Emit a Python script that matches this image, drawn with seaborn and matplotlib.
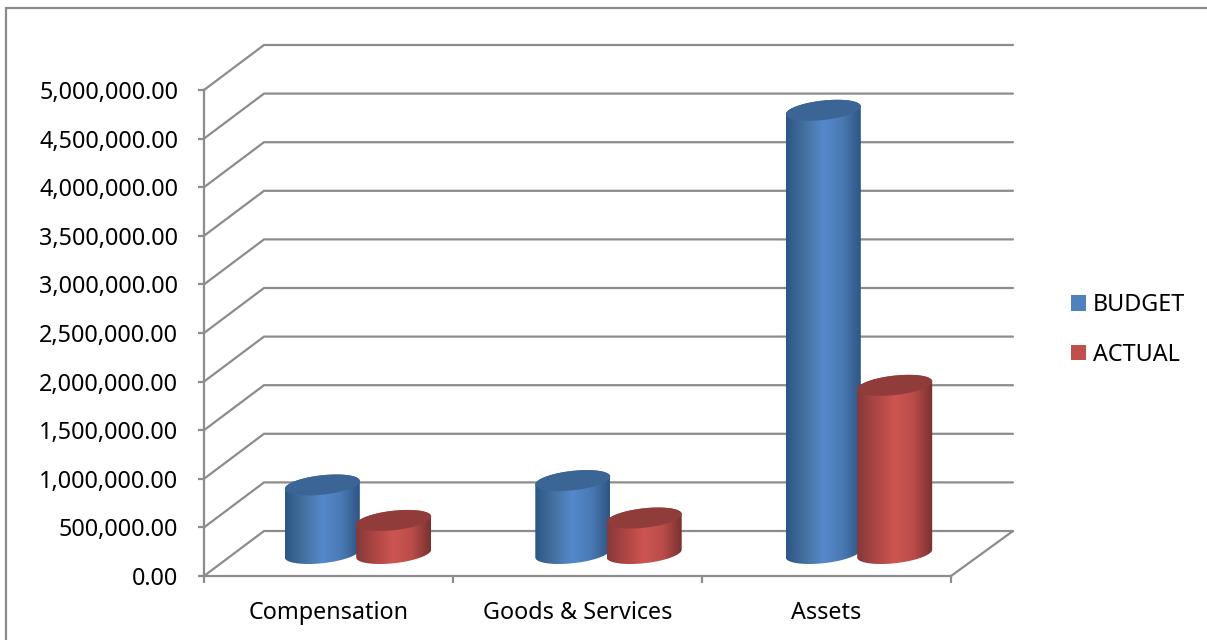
import numpy as np
import pandas as pd
import matplotlib
matplotlib.use("Agg")
import matplotlib.pyplot as plt
from matplotlib.colors import LinearSegmentedColormap
from matplotlib.patches import Polygon, Rectangle
import seaborn as sns

categories = ["Compensation", "Goods & Services", "Assets"]
budget = [705000, 750000, 4560000]
actual = [340000, 365000, 1730000]
series_names = ["BUDGET", "ACTUAL"]
y_ticks = list(range(0, 5000001, 500000))

W, H = 1207, 640
LEFT, RIGHT, BASE, TOP = 204, 951, 576, 90
PX_X = (RIGHT - LEFT) / 3
PX_Y = (BASE - TOP) / 5000000
DEPTH_X = 60 / PX_X
DEPTH_Y = 45 / PX_Y
WALL_STRETCH = 2 / PX_X  # the far wall reads slightly wider under perspective
LINE = "#8c8c8c"
LW = 1.6
FONT_SIZE = 16.8

sns.set_style("white")
plt.rcParams["font.family"] = ["Noto Sans", "DejaVu Sans"]

df = pd.DataFrame({
    "category": categories * 2,
    "series": [series_names[0]] * 3 + [series_names[1]] * 3,
    "amount": budget + actual,
})

fig = plt.figure(figsize=(W / 100, H / 100), dpi=100)
ax = fig.add_axes([LEFT / W, 1 - BASE / H, (RIGHT - LEFT) / W, (BASE - TOP) / H])
ax.patch.set_alpha(0)

sns.barplot(data=df, x="category", y="amount", hue="series", hue_order=series_names,
            palette=["#4f81bd", "#c0504d"], saturation=1, width=0.57, gap=0,
            linewidth=0, ax=ax)

x0, x1 = -0.5, 2.5
ax.set_xlim(x0, x1)
ax.set_ylim(0, 5000000)

# Back wall gridlines with their diagonal returns to the value axis
for v in y_ticks:
    ax.plot([x0, x0 + DEPTH_X, x1 + DEPTH_X + WALL_STRETCH], [v, v + DEPTH_Y, v + DEPTH_Y],
            color=LINE, lw=LW, clip_on=False, zorder=1, solid_joinstyle="miter")
ax.plot([x1, x1 + DEPTH_X + WALL_STRETCH], [0, DEPTH_Y], color=LINE, lw=LW, clip_on=False, zorder=1)

ramps = [
    LinearSegmentedColormap.from_list("blue_body", ["#2c5585", "#44719f", "#5589cc", "#4a7ab4", "#2f5583"]),
    LinearSegmentedColormap.from_list("red_body", ["#85393a", "#ad4643", "#ce5551", "#b94c49", "#783130"]),
]
caps = ["#3b6595", "#903c3a"]
ramp = np.linspace(0, 1, 256)[None, :]

BAR_W = 75 / PX_X
BX = 14 / PX_X          # depth skew of the round ends, horizontal part
BY = 10.5 / PX_Y        # depth skew of the round ends, vertical part
ALPHA = (37.5 ** 2 - 14 ** 2) ** 0.5 / PX_X


def ring(cx, cy, start, stop):
    t = np.linspace(start, stop, 60)
    return np.column_stack([cx + ALPHA * np.cos(t) + BX * np.sin(t), cy + BY * np.sin(t)])


turn = np.arctan2(BX, ALPHA)
z = 3
for cat in range(len(categories)):
    for s, container in enumerate(ax.containers):
        bar = container.patches[cat]
        value = bar.get_height()
        cx = (bar.get_x() + bar.get_width() / 2) * 1.006 + DEPTH_X / 2 - 0.002
        low = DEPTH_Y / 2
        high = low + value
        # The flat bar stays inside the round body so its corners never show
        bar.set(x=cx - 0.4 * BAR_W, width=0.8 * BAR_W, y=low, zorder=z)
        body = Polygon(np.vstack([ring(cx, low, turn + np.pi, turn + 2 * np.pi),
                                  ring(cx, high, turn, turn + np.pi)]),
                       closed=True, facecolor="none", edgecolor="none",
                       transform=ax.transData, zorder=z)
        ax.add_patch(body)
        im = ax.imshow(ramp, cmap=ramps[s], aspect="auto", interpolation="bilinear",
                       extent=[cx - BAR_W / 2, cx + BAR_W / 2, low - BY, high + BY], zorder=z + 0.1)
        im.set_clip_box(fig.bbox)
        im.set_clip_path(body)
        ax.add_patch(Polygon(ring(cx, high, 0, 2 * np.pi), closed=True, facecolor=caps[s],
                             edgecolor="none", zorder=z + 0.2, clip_on=False))
        z += 1

ax.set_xlim(x0, x1)
ax.set_ylim(0, 5000000)
ax.set_aspect("auto")

for side in ("top", "right"):
    ax.spines[side].set_visible(False)
for side in ("left", "bottom"):
    ax.spines[side].set_color(LINE)
    ax.spines[side].set_linewidth(LW)

ax.set_xlabel("")
ax.set_ylabel("")
ax.set_yticks(y_ticks)
ax.set_yticklabels([f"{v:,.2f}" for v in y_ticks], va="center_baseline")
ax.set_xticks(range(len(categories)))
ax.set_xticklabels(categories)
ax.set_xticks([-0.5, 0.5, 1.5, 2.5], minor=True)
ax.tick_params(axis="y", which="major", left=True, length=4.5, width=LW, color=LINE,
               pad=14, labelsize=FONT_SIZE, labelcolor="black")
ax.tick_params(axis="x", which="major", length=0, pad=18, labelsize=FONT_SIZE, labelcolor="black")
ax.tick_params(axis="x", which="minor", bottom=True, length=5, width=LW, color=LINE)

sns.move_legend(ax, "center left", bbox_to_anchor=(1071 / W, 1 - 330 / H),
                bbox_transform=fig.transFigure, title=None, frameon=False,
                fontsize=FONT_SIZE, handlelength=0.635, handleheight=0.635, handletextpad=0.3,
                labelspacing=1.1, borderpad=0, borderaxespad=0, labelcolor="black")

# Outer chart border
fig.add_artist(Rectangle((5.5 / W, -0.1), 1.2, 1.1 - 8 / H, transform=fig.transFigure,
                         facecolor="none", edgecolor="#8a8a8a", lw=LW))

fig.savefig("out.png", dpi=100)
